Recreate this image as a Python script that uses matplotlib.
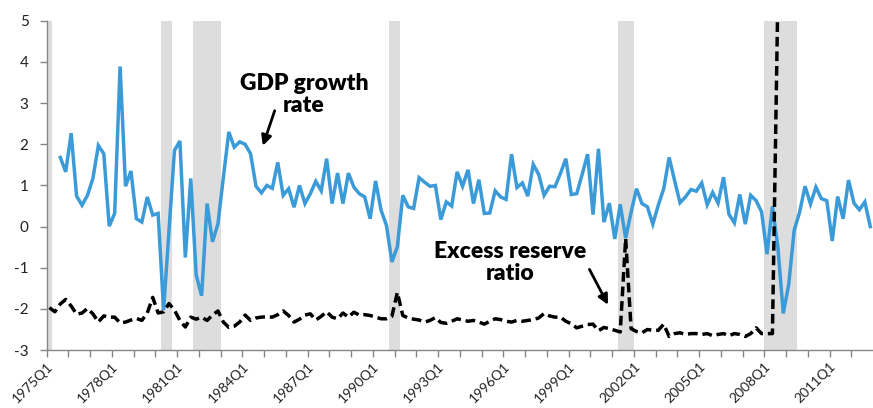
import numpy as np
import matplotlib
matplotlib.use("Agg")
import matplotlib.pyplot as plt

# ---------------- data ----------------
quarters = [f"{1975 + k // 4}Q{k % 4 + 1}" for k in range(152)]

gdp_growth = [np.nan, np.nan,
    1.68, 1.33, 2.27, 0.74, 0.52, 0.76, 1.17, 1.97, 1.77, 0.01, 0.32, 3.89, 0.98, 1.35, 0.19, 0.11, 0.72, 0.28,
    0.32, -2.03, -0.10, 1.85, 2.08, -0.75, 1.17, -1.18, -1.68, 0.56, -0.37, 0.07, 1.20, 2.30, 1.93, 2.06, 2.00, 1.77, 0.98, 0.82,
    1.00, 0.93, 1.56, 0.76, 0.92, 0.47, 1.00, 0.56, 0.80, 1.10, 0.87, 1.65, 0.56, 1.30, 0.56, 1.30, 0.96, 0.80, 0.72, 0.19,
    1.11, 0.40, 0.03, -0.86, -0.49, 0.76, 0.48, 0.44, 1.19, 1.08, 0.98, 1.00, 0.17, 0.60, 0.50, 1.33, 0.98, 1.38, 0.56, 1.14,
    0.32, 0.33, 0.87, 0.72, 0.66, 1.76, 0.95, 1.06, 0.74, 1.51, 1.27, 0.76, 0.98, 0.97, 1.29, 1.65, 0.78, 0.80, 1.27, 1.76,
    0.29, 1.89, 0.11, 0.57, -0.30, 0.54, -0.28, 0.35, 0.92, 0.56, 0.48, 0.06, 0.52, 0.92, 1.68, 1.12, 0.58, 0.72, 0.90, 0.86,
    1.06, 0.53, 0.83, 0.57, 1.20, 0.30, 0.09, 0.78, 0.06, 0.76, 0.63, 0.36, -0.67, 0.49, -0.50, -2.11, -1.40, -0.09, 0.35, 0.98,
    0.55, 0.96, 0.68, 0.63, -0.35, 0.73, 0.19, 1.13, 0.57, 0.41, 0.60, 0.00]

excess_reserve = [
    -1.97, -2.07, -1.88, -1.77, -1.93, -2.13, -2.10, -1.99, -2.12, -2.32, -2.17, -2.20, -2.20, -2.34, -2.32, -2.27, -2.23, -2.28, -2.10, -1.72,
    -2.10, -2.07, -1.87, -2.03, -2.28, -2.44, -2.20, -2.25, -2.20, -2.28, -2.15, -2.05, -2.32, -2.45, -2.42, -2.32, -2.15, -2.28, -2.22, -2.20,
    -2.19, -2.20, -2.14, -2.05, -2.16, -2.32, -2.25, -2.15, -2.12, -2.27, -2.18, -2.07, -2.20, -2.24, -2.10, -2.20, -2.08, -2.15, -2.14, -2.16,
    -2.20, -2.24, -2.24, -2.18, -1.60, -2.16, -2.22, -2.25, -2.27, -2.32, -2.28, -2.21, -2.33, -2.35, -2.30, -2.24, -2.27, -2.30, -2.28, -2.32,
    -2.37, -2.30, -2.24, -2.26, -2.30, -2.32, -2.28, -2.30, -2.28, -2.26, -2.22, -2.11, -2.17, -2.20, -2.20, -2.30, -2.36, -2.46, -2.42, -2.38,
    -2.37, -2.53, -2.45, -2.48, -2.52, -2.56, -0.29, -2.48, -2.55, -2.58, -2.50, -2.52, -2.52, -2.37, -2.67, -2.60, -2.58, -2.62, -2.60, -2.60,
    -2.62, -2.60, -2.65, -2.62, -2.60, -2.65, -2.60, -2.62, -2.67, -2.60, -2.46, -2.60, -2.60, -2.60, 5.6, 11.0, 11.5, 11.8, 12.0, 12.2,
    12.3, 12.5, 12.6, 12.7, 12.8, 12.9, 13.0, 13.0, 13.1, 13.1, 13.2, 13.2]

recession_start = ["1975Q1", "1980Q2", "1981Q4", "1990Q4", "2001Q2", "2008Q1"]
recession_end = ["1975Q1", "1980Q3", "1982Q4", "1991Q1", "2001Q4", "2009Q2"]

tick_labels = [q for q in quarters if q.endswith("Q1") and (int(q[:4]) - 1975) % 3 == 0]
y_ticks = [-3, -2, -1, 0, 1, 2, 3, 4, 5]

# ---------------- plot ----------------
plt.rcParams['font.family'] = ['Lato', 'DejaVu Sans']

fig = plt.figure(figsize=(8.73, 4.08), dpi=100)
ax = fig.add_axes([0.0535, 0.142, 0.9465, 0.807])

x = np.arange(len(quarters))

for s, e in zip(recession_start, recession_end):
    ax.axvspan(quarters.index(s) - 0.5, quarters.index(e) + 0.5,
               color='#dddddd', lw=0, zorder=0)

ax.plot(x, gdp_growth, color='#3a9bd8', lw=2.5, zorder=3, solid_joinstyle='miter')
ax.plot(x, excess_reserve, color='black', lw=2.5, dashes=(2.8, 1.4), zorder=4)

ax.set_xlim(-0.5, len(quarters) - 0.5)
ax.set_ylim(-3, 5)

ax.set_yticks(y_ticks)
ax.set_yticklabels([str(v) for v in y_ticks])

minor_pos = [quarters.index(q) - 0.5 for q in quarters if q.endswith("Q1")]
ax.set_xticks(minor_pos, minor=True)
ax.set_xticks([quarters.index(q) - 0.5 for q in tick_labels])
ax.set_xticklabels(tick_labels, rotation=45, ha='right', va='top', rotation_mode='anchor')

for sp in ['top', 'right']:
    ax.spines[sp].set_visible(False)
for sp in ['left', 'bottom']:
    ax.spines[sp].set_color('#868686')
    ax.spines[sp].set_linewidth(1.0)

ax.tick_params(axis='both', which='both', direction='out', color='#868686', length=5, width=1)
ax.tick_params(axis='y', labelsize=11, colors='#868686', labelcolor='#222222', pad=8)
ax.tick_params(axis='x', labelsize=10, labelcolor='#222222', pad=2)

# annotations
ax.text(46.8, 3.2, "GDP growth\nrate", ha='center', va='center',
        fontsize=16.5, fontweight='heavy', linespacing=1.05, color='black')
ax.annotate("", xy=(39.1, 1.9), xytext=(41.6, 2.88),
            arrowprops=dict(arrowstyle='-|>', color='black', lw=2.0, mutation_scale=15))

ax.text(84.7, -0.87, "Excess reserve\nratio", ha='center', va='center',
        fontsize=16.5, fontweight='heavy', linespacing=1.05, color='black')
ax.annotate("", xy=(103.0, -1.96), xytext=(99.1, -0.98),
            arrowprops=dict(arrowstyle='-|>', color='black', lw=2.0, mutation_scale=15))

fig.savefig("out.png", dpi=100)
